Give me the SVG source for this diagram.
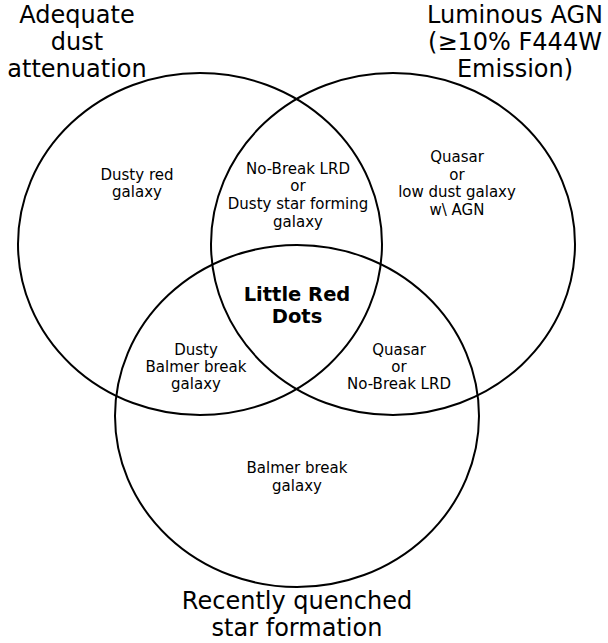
<svg xmlns="http://www.w3.org/2000/svg" width="608" height="643" viewBox="0 0 608 643">
<style>
.c{fill:none;stroke:#000;stroke-width:2}
.t{font-family:"DejaVu Sans",sans-serif;font-size:24px;text-anchor:middle;fill:#000}
.l{font-family:"DejaVu Sans",sans-serif;font-size:15px;text-anchor:middle;fill:#000}
.b{font-family:"DejaVu Sans",sans-serif;font-size:19.5px;font-weight:bold;text-anchor:middle;fill:#000}
</style>
<rect width="608" height="643" fill="#fff"/>
<g id="connectors"/>
<g id="set-dust">
<ellipse class="c" cx="200" cy="244" rx="182" ry="171"/>
<text class="t" x="77" y="23">Adequate</text>
<text class="t" x="77" y="50">dust</text>
<text class="t" x="77" y="77">attenuation</text>
</g>
<g id="set-agn">
<ellipse class="c" cx="393" cy="244" rx="182" ry="171"/>
<text class="t" x="515" y="23">Luminous AGN</text>
<text class="t" x="515" y="50">(≥10% F444W</text>
<text class="t" x="515" y="77">Emission)</text>
</g>
<g id="set-quenched">
<ellipse class="c" cx="297" cy="416" rx="182" ry="171"/>
<text class="t" x="297" y="609">Recently quenched</text>
<text class="t" x="297" y="636">star formation</text>
</g>
<g id="region-dust-only">
<text class="l" x="137" y="180">Dusty red</text>
<text class="l" x="137" y="197">galaxy</text>
</g>
<g id="region-dust-agn">
<text class="l" x="298" y="174">No-Break LRD</text>
<text class="l" x="298" y="191">or</text>
<text class="l" x="298" y="209">Dusty star forming</text>
<text class="l" x="298" y="227">galaxy</text>
</g>
<g id="region-agn-only">
<text class="l" x="457" y="162">Quasar</text>
<text class="l" x="457" y="180">or</text>
<text class="l" x="457" y="197">low dust galaxy</text>
<text class="l" x="457" y="215">w\ AGN</text>
</g>
<g id="region-all">
<text class="b" x="297" y="301">Little Red</text>
<text class="b" x="297" y="323">Dots</text>
</g>
<g id="region-dust-quenched">
<text class="l" x="196" y="355">Dusty</text>
<text class="l" x="196" y="372">Balmer break</text>
<text class="l" x="196" y="389">galaxy</text>
</g>
<g id="region-agn-quenched">
<text class="l" x="399" y="355">Quasar</text>
<text class="l" x="399" y="372">or</text>
<text class="l" x="399" y="389">No-Break LRD</text>
</g>
<g id="region-quenched-only">
<text class="l" x="297" y="473">Balmer break</text>
<text class="l" x="297" y="491">galaxy</text>
</g>
</svg>
